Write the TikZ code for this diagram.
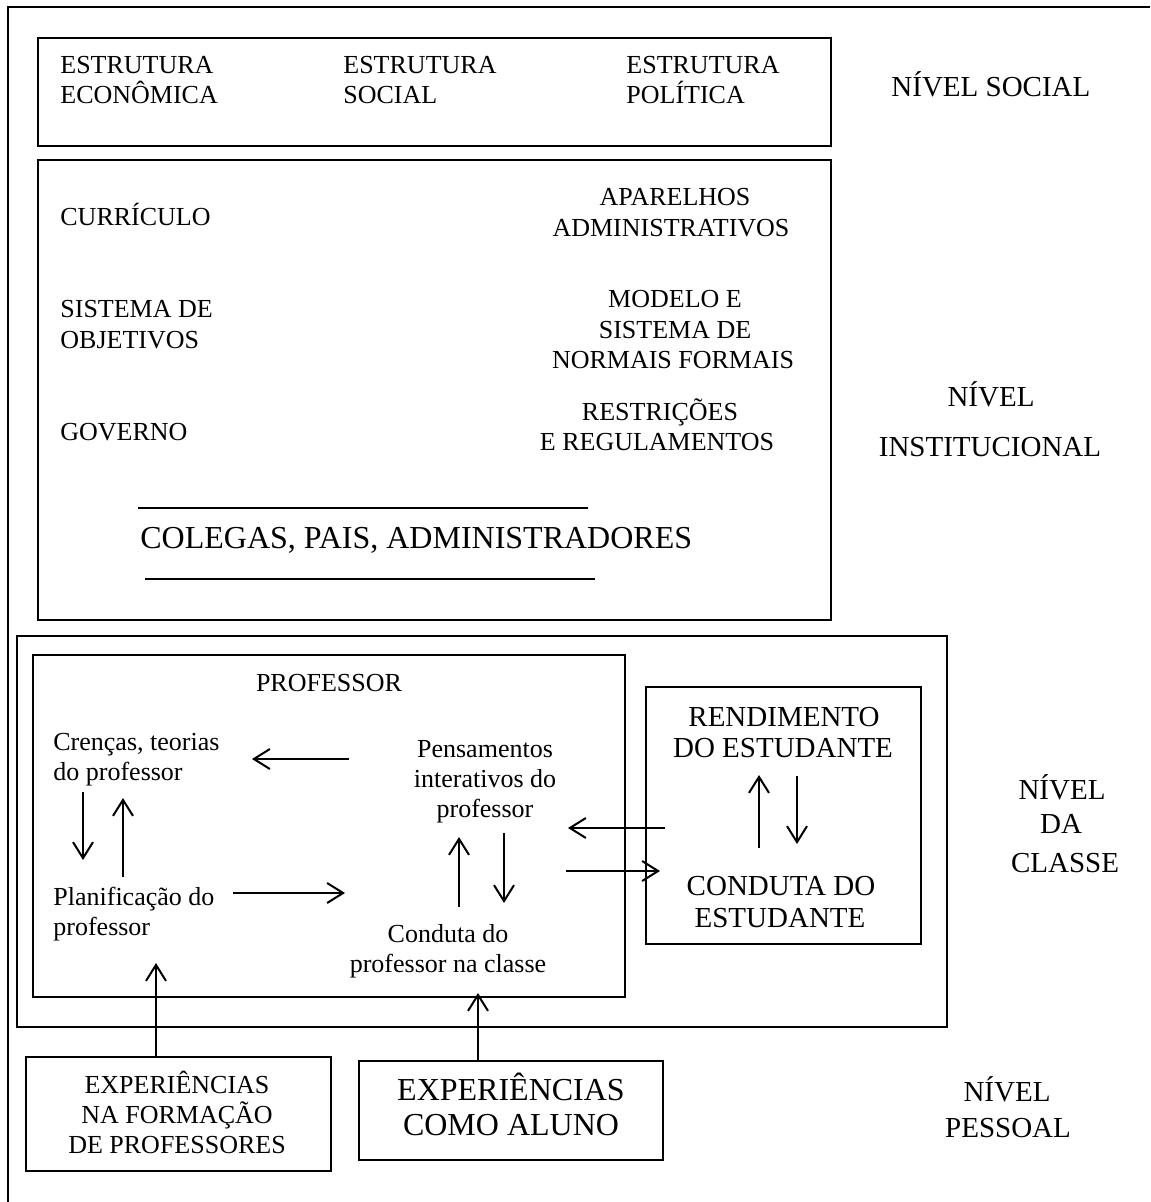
\documentclass[tikz,border=0pt]{standalone}
\usepackage{fontspec}
\setmainfont{Liberation Serif}
\usetikzlibrary{arrows.meta,fit}
\begin{document}
\begin{tikzpicture}[x=0.5pt,y=-0.5pt,
  box/.style={draw,line width=1pt,inner sep=0pt},
  tl/.style={inner sep=0pt,anchor=base west,font=\fontsize{13}{15.6}\selectfont},
  tm/.style={inner sep=0pt,anchor=base,font=\fontsize{13}{15.6}\selectfont},
  lv/.style={inner sep=0pt,anchor=base,font=\fontsize{14.5}{17}\selectfont},
  bg/.style={inner sep=0pt,anchor=base,font=\fontsize{16}{19}\selectfont},
  arr/.style={-{Straight Barb[length=8pt,width=10pt]},line width=1pt}]
\useasboundingbox (0,0) rectangle (1150,1202);
% outer frame
\draw[line width=1pt] (1150,7) -- (8,7) -- (8,1202);
% boxes
\node[box,fit={(38,38) (831,146)}] (social) {};
\node[box,fit={(38,160) (831,620)}] (inst) {};
\node[box,fit={(17,636) (947,1027)}] (classe) {};
\node[box,fit={(33,655) (625,997)}] (prof) {};
\node[box,fit={(646,687) (921,944)}] (estud) {};
\node[box,fit={(26,1057) (331,1171)}] (expA) {};
\node[box,fit={(359,1061) (663,1160)}] (expB) {};
% social level
\node[tl] (e1a) at (60,74) {ESTRUTURA};
\node[tl] (e1b) at (60,104) {ECONÔMICA};
\node[tl] (e2a) at (343,74) {ESTRUTURA};
\node[tl] (e2b) at (343,104) {SOCIAL};
\node[tl] (e3a) at (626,74) {ESTRUTURA};
\node[tl] (e3b) at (626,104) {POLÍTICA};
\node[lv,anchor=base west] (nsoc) at (891,97) {NÍVEL SOCIAL};
% institutional level
\node[tl] (curr) at (60,226) {CURRÍCULO};
\node[tl] (sis1) at (60,318) {SISTEMA DE};
\node[tl] (sis2) at (60,349) {OBJETIVOS};
\node[tl] (gov) at (60,441) {GOVERNO};
\node[tm] (apa1) at (675,206) {APARELHOS};
\node[tm] (apa2) at (671,237) {ADMINISTRATIVOS};
\node[tm] (mod1) at (675,308) {MODELO E};
\node[tm] (mod2) at (675,339) {SISTEMA DE};
\node[tm] (mod3) at (673,369) {NORMAIS FORMAIS};
\node[tm] (res1) at (660,421) {RESTRIÇÕES};
\node[tm] (res2) at (657,451) {E REGULAMENTOS};
\coordinate (l1a) at (138,508); \coordinate (l1b) at (588,508);
\coordinate (l2a) at (145,579); \coordinate (l2b) at (595,579);
\draw[line width=1pt] (l1a) -- (l1b);
\draw[line width=1pt] (l2a) -- (l2b);
\node[bg,anchor=base west] (coleg) at (140,548) {COLEGAS, PAIS, ADMINISTRADORES};
\node[lv] (ni1) at (991,407) {NÍVEL};
\node[lv] (ni2) at (990,457) {INSTITUCIONAL};
% class level
\node[tm] (proft) at (329,691) {PROFESSOR};
\node[tl] (cr1) at (53,750) {Crenças, teorias};
\node[tl] (cr2) at (53,780) {do professor};
\node[tl] (pl1) at (53,905) {Planificação do};
\node[tl] (pl2) at (53,935) {professor};
\node[tm] (pe1) at (485,757) {Pensamentos};
\node[tm] (pe2) at (485,787) {interativos do};
\node[tm] (pe3) at (485,817) {professor};
\node[tm] (co1) at (448,942) {Conduta do};
\node[tm] (co2) at (448,972) {professor na classe};
\node[lv] (re1) at (784,726) {RENDIMENTO};
\node[lv] (re2) at (783,757) {DO ESTUDANTE};
\node[lv] (ce1) at (781,895) {CONDUTA DO};
\node[lv] (ce2) at (780,927) {ESTUDANTE};
\node[lv] (nc1) at (1062,799) {NÍVEL};
\node[lv] (nc2) at (1061,833) {DA};
\node[lv] (nc3) at (1065,872) {CLASSE};
% personal level
\node[tm] (xa1) at (177,1093) {EXPERIÊNCIAS};
\node[tm] (xa2) at (177,1123) {NA FORMAÇÃO};
\node[tm] (xa3) at (177,1153) {DE PROFESSORES};
\node[bg] (xb1) at (511,1100) {EXPERIÊNCIAS};
\node[bg] (xb2) at (511,1135) {COMO ALUNO};
\node[lv] (np1) at (1007,1101) {NÍVEL};
\node[lv] (np2) at (1008,1137) {PESSOAL};
% arrow end points
\coordinate (a1s) at (349,759); \coordinate (a1e) at (252,759);
\coordinate (a2s) at (83,792);  \coordinate (a2e) at (83,860);
\coordinate (a3s) at (123,877); \coordinate (a3e) at (123,798);
\coordinate (a4s) at (233,893); \coordinate (a4e) at (345,893);
\coordinate (a5s) at (459,907); \coordinate (a5e) at (459,837);
\coordinate (a6s) at (504,833); \coordinate (a6e) at (504,903);
\coordinate (a7s) at (665,828); \coordinate (a7e) at (568,828);
\coordinate (a8s) at (566,871); \coordinate (a8e) at (660,871);
\coordinate (a9s) at (759,848); \coordinate (a9e) at (759,775);
\coordinate (a10s) at (797,776); \coordinate (a10e) at (797,844);
\coordinate (a11e) at (156,963);
\coordinate (a12e) at (478,993);
% arrows
\draw[arr] (a1s) -- (a1e);
\draw[arr] (a2s) -- (a2e);
\draw[arr] (a3s) -- (a3e);
\draw[arr] (a4s) -- (a4e);
\draw[arr] (a5s) -- (a5e);
\draw[arr] (a6s) -- (a6e);
\draw[arr] (a7s) -- (a7e);
\draw[arr] (a8s) -- (a8e);
\draw[arr] (a9s) -- (a9e);
\draw[arr] (a10s) -- (a10e);
\draw[arr] (expA.north -| a11e) -- (a11e);
\draw[arr] (expB.north -| a12e) -- (a12e);
\end{tikzpicture}
\end{document}
